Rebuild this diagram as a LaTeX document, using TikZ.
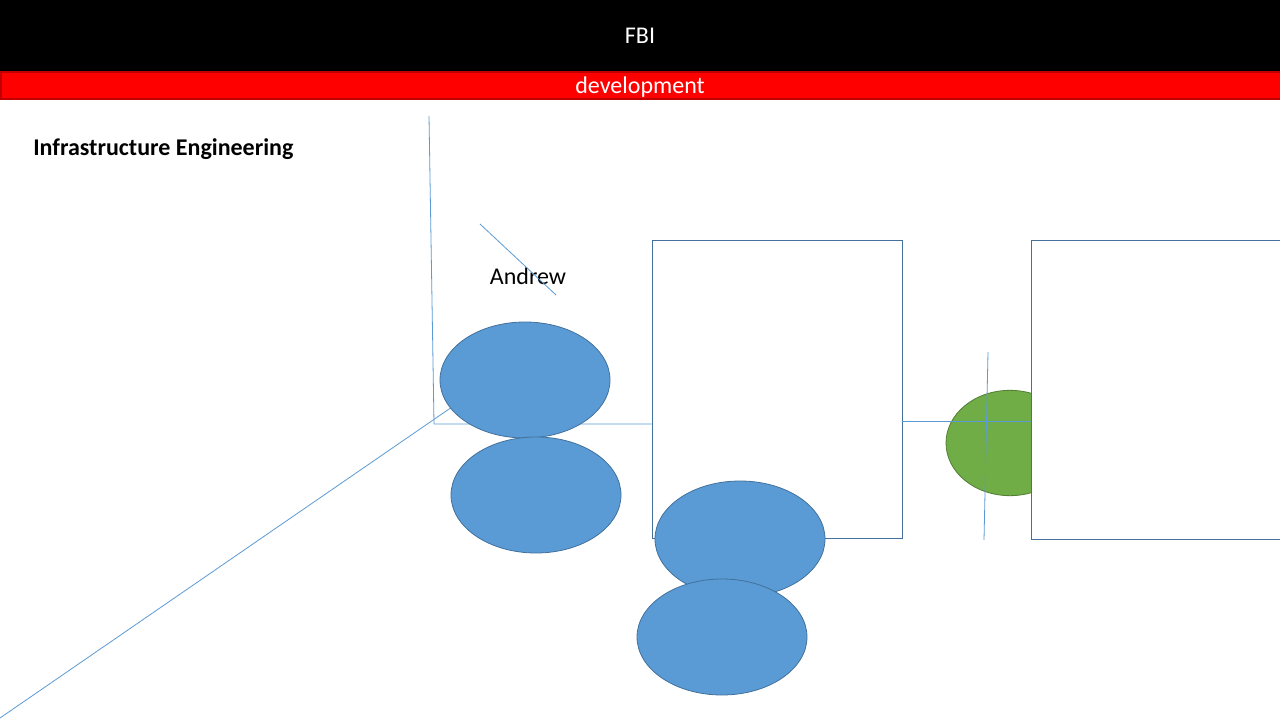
\documentclass[tikz,border=0pt]{standalone}
\usepackage{fontspec}
\setmainfont{Carlito}
\usetikzlibrary{positioning,shapes.geometric}
\definecolor{blob}{HTML}{5B9BD5}
\definecolor{blobline}{HTML}{41719C}
\definecolor{leaf}{HTML}{70AD47}
\definecolor{leafline}{HTML}{507E32}
\definecolor{bardark}{HTML}{C00000}

\begin{document}
\begin{tikzpicture}[x=0.75pt, y=-0.75pt,
  blue ellipse/.style={ellipse, fill=blob, draw=blobline, line width=0.6pt,
    minimum width=127.5pt, minimum height=87pt, inner sep=0pt},
  green ellipse/.style={ellipse, fill=leaf, draw=leafline, line width=0.6pt,
    minimum width=96pt, minimum height=79pt, inner sep=0pt},
  panel/.style={rectangle, fill=white, draw=blobline, line width=0.6pt,
    minimum width=187.5pt, minimum height=224pt, inner sep=0pt},
  wire/.style={draw=blob, line width=0.6pt},
  heading/.style={font=\fontsize{18}{21}\selectfont, text=white}
]
\useasboundingbox (0,0) rectangle (1280,720);
\fill[white] (0,0) rectangle (1280,720);

% title bars
\fill[black] (0,0) rectangle (1280,71);
\draw[fill=red, draw=bardark, line width=0.8pt] (1,72) rectangle (1290,99);
\node[heading] (title) at (640,36) {FBI};
\node[heading] (stage) at (640,87) {development};
\node[font=\bfseries\fontsize{18}{21}\selectfont, anchor=west, inner sep=0pt] (team)
  at (33,149) {Infrastructure Engineering};

% free line ends
\coordinate (axtop) at (429,116);
\coordinate (axcorner) at (434,424);
\coordinate (axfoot) at (0,718);
\coordinate (axtip) at (452,407);
\coordinate (tickA) at (480,224);
\coordinate (tickB) at (556,295);
\coordinate (crossT) at (988,352);
\coordinate (crossB) at (984,540);

% left box
\node[panel] (boxL) at (777,389.5) {};
\draw[wire] (axtop) -- (axcorner) -- (axcorner -| boxL.west);
\draw[wire] (axfoot) -- (axtip);

% people
\node[font=\fontsize{18}{21}\selectfont] (andrew) at (528,276) {Andrew};
\draw[wire] (tickA) -- (tickB);
\node[blue ellipse] (top) at (525,380) {};
\node[blue ellipse] (mid) at (536,495) {};
\node[blue ellipse] (low) at (740,539) {};
\node[blue ellipse] (base) at (722,637) {};

% right side
\node[green ellipse] (link) at (1010,443) {};
\node[panel, anchor=north west, minimum width=200pt] (boxR) at (1031,240) {};
\draw[wire] (boxL.east |- 0,421) -- (boxR.west |- 0,421);
\draw[wire] (crossT) -- (crossB);
\end{tikzpicture}
\end{document}
